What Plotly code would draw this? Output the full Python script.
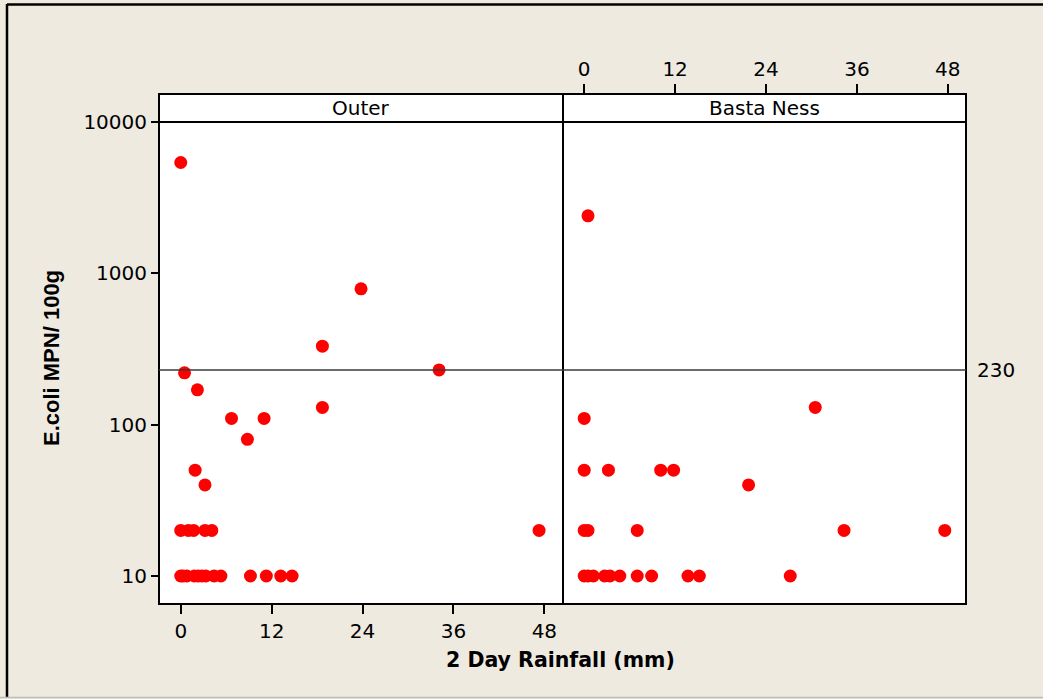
import plotly.graph_objects as go

# 2-day rainfall (mm) and E. coli MPN per 100 g, by site
outer_rain = [0, 23.8, 18.7, 0.5, 34.1, 2.2, 18.7, 6.7, 11.0, 8.8, 1.9, 3.2,
              0, 1.0, 1.7, 3.2, 4.1, 47.3,
              0, 0.3, 0.8, 1.8, 2.3, 2.8, 3.3, 4.4, 5.3, 9.2, 11.3, 13.2, 14.7]
outer_ecoli = [5400, 790, 330, 220, 230, 170, 130, 110, 110, 80, 50, 40,
               20, 20, 20, 20, 20, 20,
               10, 10, 10, 10, 10, 10, 10, 10, 10, 10, 10, 10, 10]

basta_rain = [0.5, 0, 30.5,
              0, 3.2, 10.1, 11.8,
              21.7,
              0, 0.5, 7.0, 34.3, 47.6,
              0, 0.5, 1.2, 2.7, 3.4, 4.7, 7.0, 8.9, 13.7, 15.2, 27.2]
basta_ecoli = [2400, 110, 130,
               50, 50, 50, 50,
               40,
               20, 20, 20, 20, 20,
               10, 10, 10, 10, 10, 10, 10, 10, 10, 10, 10]

panel_names = ["Outer", "Basta Ness"]
x_ticks = [0, 12, 24, 36, 48]
y_ticks = [10, 100, 1000, 10000]
threshold = 230

W, H = 1043, 699
L, R, T, B = 159, 966, 94, 604
MID = 563


def px(x):
    return (x - L) / (R - L)


def py(y):
    return (B - y) / (B - T)


BG = "#EEEAE0"
TICK_FONT = dict(family="DejaVu Sans", size=20, color="black")

fig = go.Figure()
fig.add_trace(go.Scatter(x=outer_rain, y=outer_ecoli, mode="markers",
                         marker=dict(color="#FF0000", size=13),
                         xaxis="x", yaxis="y", showlegend=False))
fig.add_trace(go.Scatter(x=basta_rain, y=basta_ecoli, mode="markers",
                         marker=dict(color="#FF0000", size=13),
                         xaxis="x2", yaxis="y", showlegend=False))

axis_common = dict(tickvals=x_ticks, ticks="outside", ticklen=9, tickwidth=1.5,
                   tickcolor="black", showgrid=False, zeroline=False,
                   showline=False, tickfont=TICK_FONT)

fig.update_layout(
    width=W, height=H,
    margin=dict(l=L, r=W - R, t=T, b=H - B, pad=0),
    paper_bgcolor=BG, plot_bgcolor="white",
    xaxis=dict(domain=[0, px(MID)], range=[-2.87, 50.46], anchor="y",
               side="bottom", **axis_common),
    xaxis2=dict(domain=[px(MID), 1], range=[-2.8, 50.4], anchor="y",
                side="top", **axis_common),
    yaxis=dict(type="log", range=[0.815, 4.185], domain=[0, 1],
               tickvals=y_ticks, ticktext=[str(v) for v in y_ticks],
               ticks="outside", ticklen=7, tickwidth=1.5, tickcolor="black",
               showgrid=False, zeroline=False, showline=False,
               tickfont=TICK_FONT),
)

shapes = []
# panel frames
for x0, x1 in [(0, px(MID)), (px(MID), 1)]:
    shapes.append(dict(type="rect", xref="paper", yref="paper",
                       x0=x0, x1=x1, y0=0, y1=1,
                       line=dict(color="black", width=2)))
# strip bottom at the top of the data range
shapes.append(dict(type="line", xref="paper", yref="y", x0=0, x1=1,
                   y0=10000, y1=10000, line=dict(color="black", width=2)))
# reference level
shapes.append(dict(type="line", xref="paper", yref="y", x0=0, x1=1,
                   y0=threshold, y1=threshold,
                   line=dict(color="#3a3a3a", width=1.5)))
# outer frame of the figure
shapes.append(dict(type="line", xref="paper", yref="paper",
                   x0=px(7), x1=px(7), y0=py(4), y1=py(697),
                   line=dict(color="black", width=2.5)))
shapes.append(dict(type="line", xref="paper", yref="paper",
                   x0=px(7), x1=px(W + 5), y0=py(4.5), y1=py(4.5),
                   line=dict(color="black", width=2.5)))
shapes.append(dict(type="line", xref="paper", yref="paper",
                   x0=px(0), x1=px(W), y0=py(697.5), y1=py(697.5),
                   line=dict(color="#bdbdb5", width=1.5)))
fig.update_layout(shapes=shapes)

annotations = [
    dict(text=panel_names[0], xref="paper", yref="paper",
         x=px((L + MID) / 2), y=py(108), showarrow=False,
         font=TICK_FONT, xanchor="center", yanchor="middle"),
    dict(text=panel_names[1], xref="paper", yref="paper",
         x=px((MID + R) / 2), y=py(108), showarrow=False,
         font=TICK_FONT, xanchor="center", yanchor="middle"),
    dict(text=str(threshold), xref="paper", yref="y",
         x=px(975), y=2.3617, showarrow=False,
         font=TICK_FONT, xanchor="left", yanchor="middle"),
    dict(text="<b>2 Day Rainfall (mm)</b>", xref="paper", yref="paper",
         x=px(560), y=py(660), showarrow=False,
         font=dict(family="DejaVu Sans", size=20.5, color="black"),
         xanchor="center", yanchor="middle"),
    dict(text="<b>E.coli MPN/ 100g</b>", xref="paper", yref="paper",
         x=px(52), y=py(358), showarrow=False, textangle=-90,
         font=dict(family="Liberation Sans", size=22, color="black"),
         xanchor="center", yanchor="middle"),
]
fig.update_layout(annotations=annotations)

fig.write_html("out.html")
